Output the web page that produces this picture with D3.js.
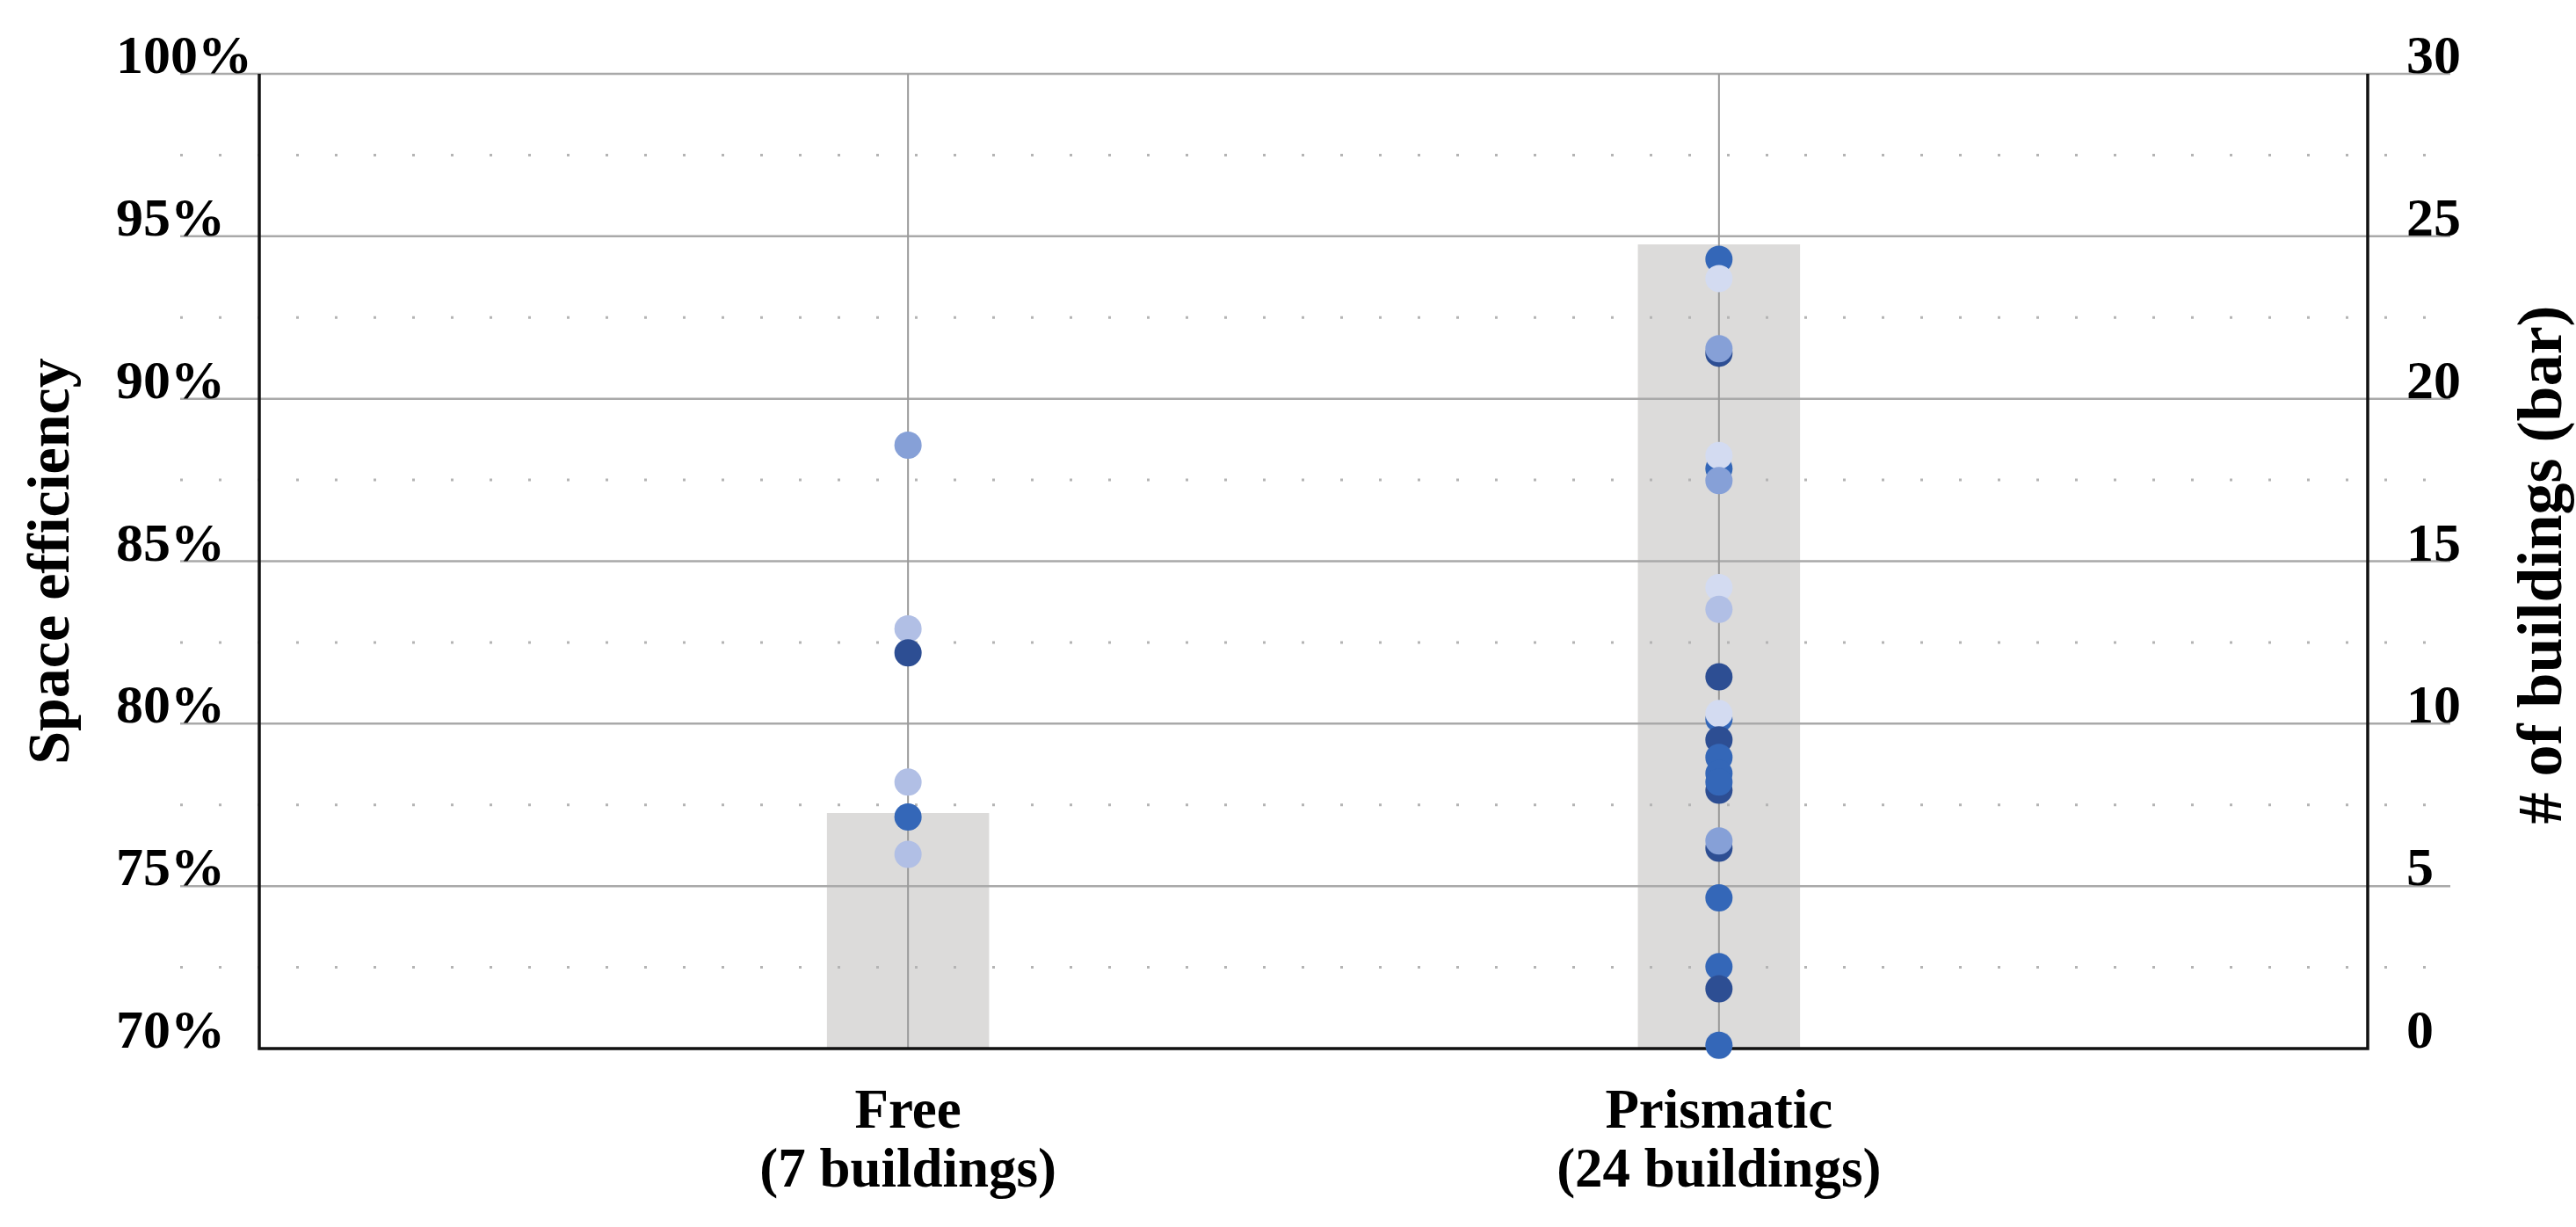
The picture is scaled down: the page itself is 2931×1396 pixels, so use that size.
<!DOCTYPE html>
<html>
<head>
<meta charset="utf-8">
<script src="https://cdn.jsdelivr.net/npm/d3@7"></script>
<style>
  body { margin: 0; background: #fff; }
  text { font-family: "Liberation Serif", "Times New Roman", serif; font-weight: bold; fill: #000; }
</style>
</head>
<body>
<div id="chart"></div>
<script>
// categories and bar counts (right axis)
const categories = ['Free', 'Prismatic'];
const categoryNotes = ['(7 buildings)', '(24 buildings)'];
const buildingCounts = [7.25, 24.75];

// space efficiency of each building, listed bottom layer first
const freeEfficiency = [88.57, 82.92, 82.18, 78.2, 77.13, 75.98];
const freeShade      = [2, 3, 0, 3, 1, 3];
const prismaticEfficiency = [94.29, 93.7, 91.4, 91.54, 87.85, 88.25, 87.48, 84.19, 83.52, 81.44,
                             80.14, 80.31, 77.95, 79.5, 78.96, 78.47, 78.2, 76.17, 76.39, 74.64,
                             72.52, 71.84, 70.1];
const prismaticShade      = [1, 4, 0, 2, 1, 4, 2, 4, 3, 0,
                             1, 4, 0, 0, 1, 1, 1, 0, 2, 1,
                             1, 0, 1];

const leftTicks = [70, 75, 80, 85, 90, 95, 100];
const rightTicks = [0, 5, 10, 15, 20, 25, 30];
const minorTicks = [72.5, 77.5, 82.5, 87.5, 92.5, 97.5];

const margin = { top: 84, right: 237, bottom: 203, left: 295 },
      width = 2931 - margin.left - margin.right,
      height = 1396 - margin.top - margin.bottom;

const svg = d3.select('#chart')
              .append('svg')
              .attr('width', width + margin.left + margin.right)
              .attr('height', height + margin.top + margin.bottom)
              .append('g')
              .attr('transform', `translate(${margin.left},${margin.top})`);

const x = d3.scalePoint()
            .domain(categories)
            .range([0, width])
            .padding(0.8);

const y = d3.scaleLinear().domain([70, 100]).range([height, 0]);
const yRight = d3.scaleLinear().domain([0, 30]).range([height, 0]);

const shadeColor = d3.scaleOrdinal()
                     .domain([0, 1, 2, 3, 4])
                     .range(['#2d4e93', '#3467b8', '#86a0d7', '#b1bfe5', '#d3dbf1']);

// bars
const barWidth = x.step() * 0.2;
svg.selectAll('rect.bar')
   .data(categories)
   .enter()
   .append('rect')
   .attr('class', 'bar')
   .attr('x', d => x(d) - barWidth / 2)
   .attr('y', (d, i) => yRight(buildingCounts[i]))
   .attr('width', barWidth)
   .attr('height', (d, i) => height - yRight(buildingCounts[i]))
   .style('fill', '#dcdbda');

// dotted minor grid
svg.selectAll('line.minor')
   .data(minorTicks)
   .enter()
   .append('line')
   .attr('x1', -90).attr('x2', width + 94)
   .attr('y1', d => y(d)).attr('y2', d => y(d))
   .style('stroke', '#b4b4b4')
   .style('stroke-width', 3)
   .style('stroke-dasharray', '3 41');

// major grid
svg.selectAll('line.major')
   .data(leftTicks.slice(1))
   .enter()
   .append('line')
   .attr('x1', -90).attr('x2', width + 94)
   .attr('y1', d => y(d)).attr('y2', d => y(d))
   .style('stroke', '#a9a9a9')
   .style('stroke-width', 2.5);

// vertical category lines
svg.selectAll('line.cat')
   .data(categories)
   .enter()
   .append('line')
   .attr('x1', d => x(d)).attr('x2', d => x(d))
   .attr('y1', 0).attr('y2', height)
   .style('stroke', '#9a9a9a')
   .style('stroke-width', 2);

// axis frame (left, bottom, right)
svg.append('path')
   .attr('d', `M0,0V${height}H${width}V0`)
   .style('fill', 'none')
   .style('stroke', '#111')
   .style('stroke-width', 3.5);

// dots
const points = [];
freeEfficiency.forEach((v, i) => points.push({ cat: 'Free', value: v, shade: freeShade[i] }));
prismaticEfficiency.forEach((v, i) => points.push({ cat: 'Prismatic', value: v, shade: prismaticShade[i] }));

svg.selectAll('circle')
   .data(points)
   .enter()
   .append('circle')
   .attr('cx', d => x(d.cat))
   .attr('cy', d => y(d.value))
   .attr('r', 15.5)
   .style('fill', d => shadeColor(d.shade));

// left tick labels
svg.selectAll('text.yl')
   .data(leftTicks)
   .enter()
   .append('text')
   .attr('x', -163)
   .attr('y', d => y(d) - 1)
   .style('font-size', '62px')
   .text(d => d + '%');

// right tick labels
svg.selectAll('text.yr')
   .data(rightTicks)
   .enter()
   .append('text')
   .attr('x', width + 44)
   .attr('y', d => yRight(d) - 1)
   .style('font-size', '62px')
   .text(d => d);

// category labels
const catLabels = svg.selectAll('text.cat')
   .data(categories)
   .enter()
   .append('text')
   .attr('text-anchor', 'middle')
   .style('font-size', '63px');
catLabels.append('tspan')
   .attr('x', d => x(d))
   .attr('y', height + 90)
   .text(d => d);
catLabels.append('tspan')
   .attr('x', d => x(d))
   .attr('y', height + 157)
   .text((d, i) => categoryNotes[i]);

// axis titles
svg.append('text')
   .attr('transform', `translate(${78 - margin.left},${height / 2}) rotate(-90)`)
   .attr('text-anchor', 'middle')
   .style('font-size', '68px')
   .text('Space efficiency');

svg.append('text')
   .attr('transform', `translate(${2914 - margin.left},${height / 2 + 4}) rotate(-90)`)
   .attr('text-anchor', 'middle')
   .style('font-size', '72px')
   .text('# of buildings (bar)');
</script>
</body>
</html>
